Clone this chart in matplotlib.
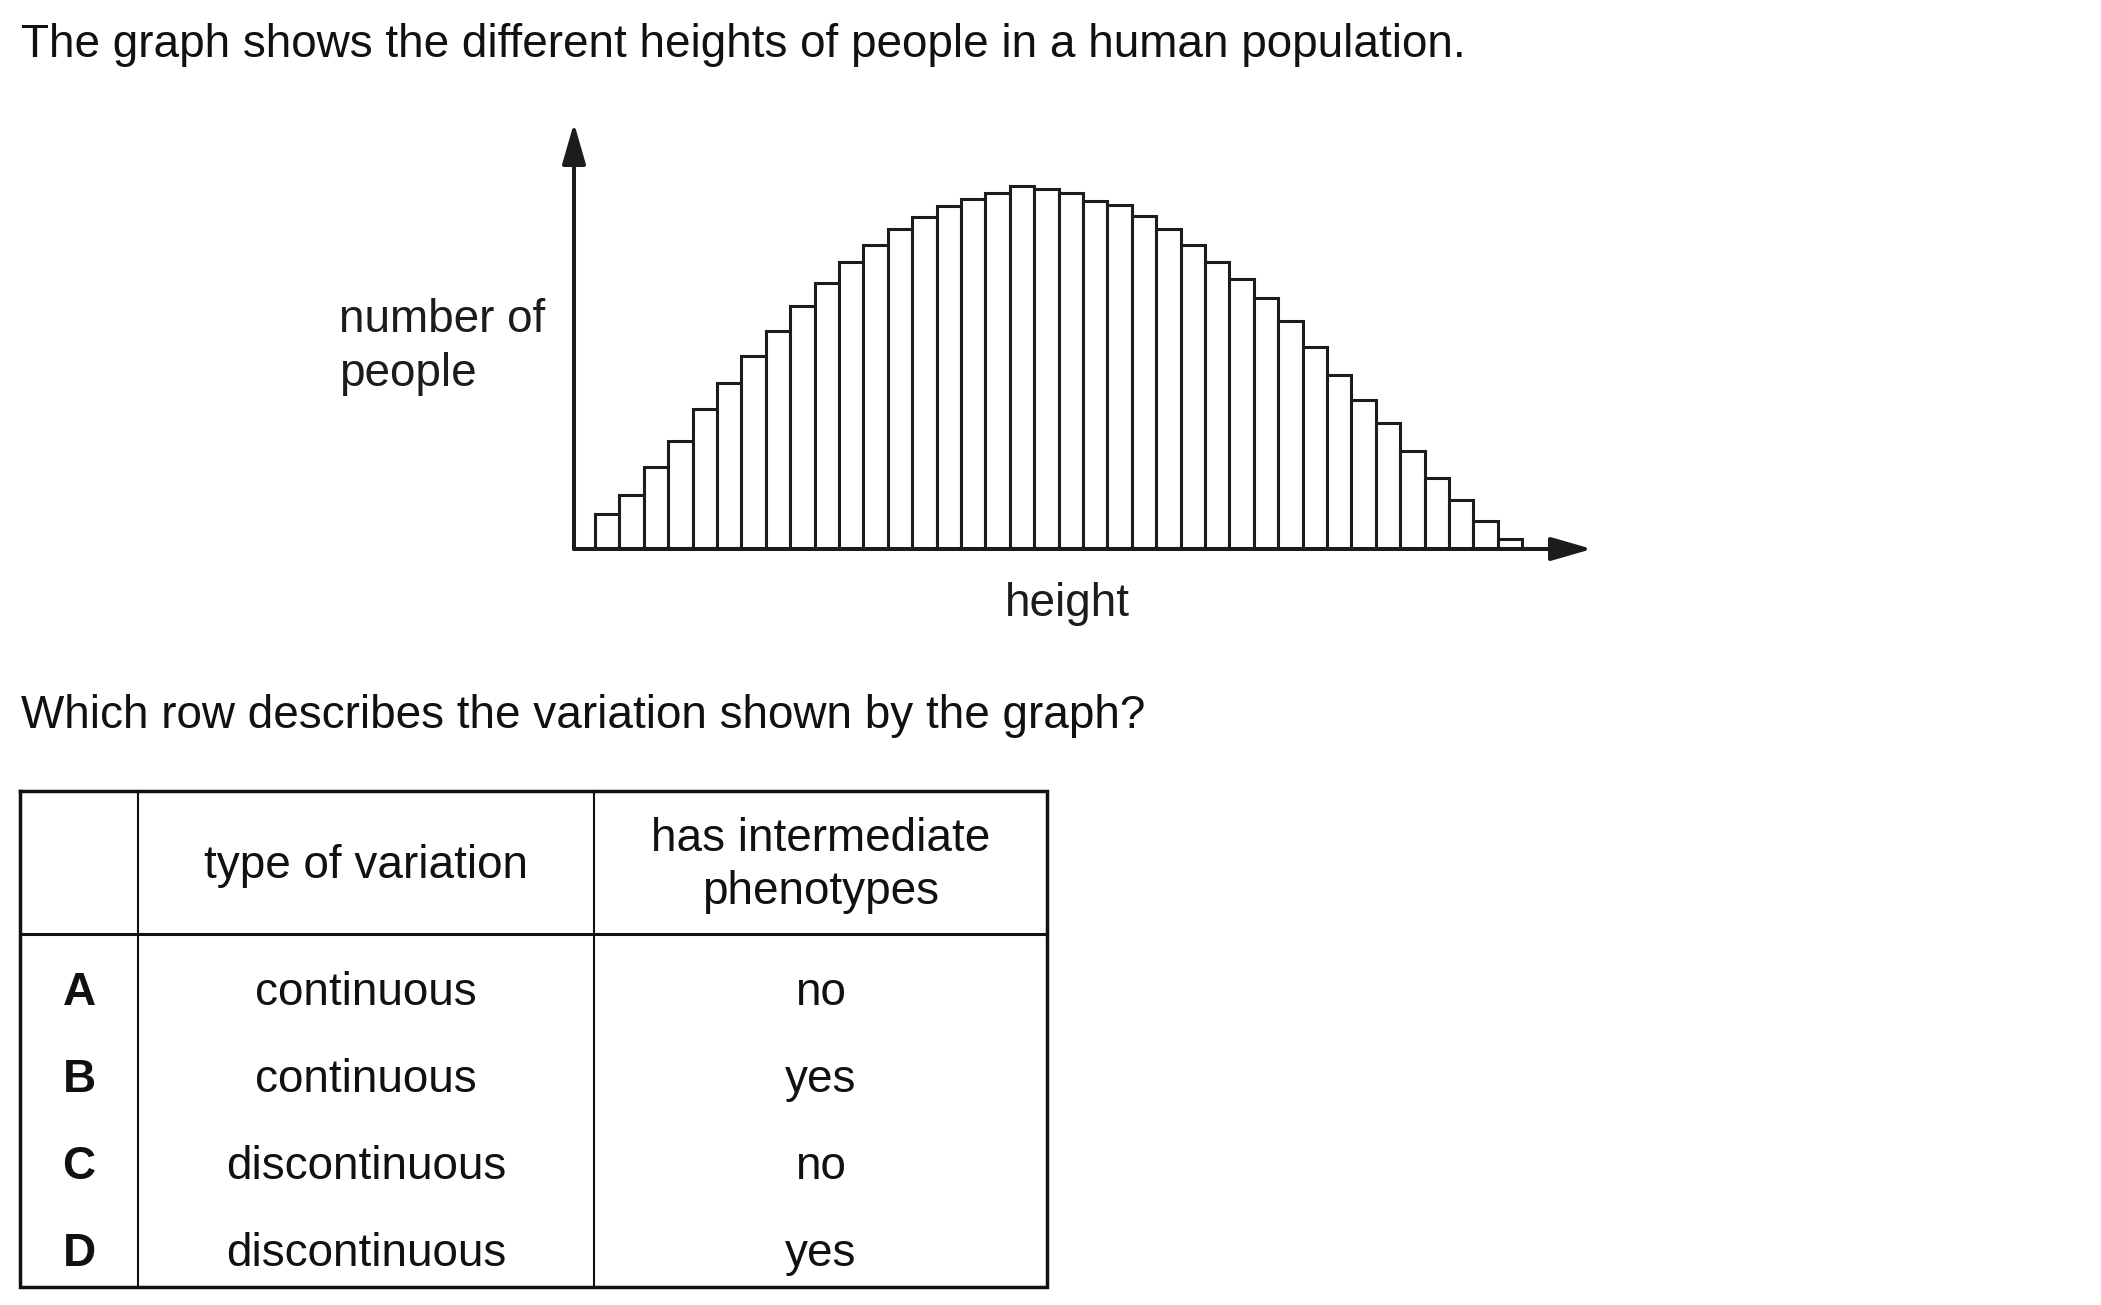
import matplotlib
matplotlib.use("Agg")
import matplotlib.pyplot as plt
from matplotlib.patches import FancyArrowPatch

# ---------------- data ----------------
bar_heights = [35, 54, 82, 108, 140, 166, 193, 218, 243, 266, 287, 304, 320, 332,
               343, 350, 356, 363, 360, 356, 348, 344, 333, 320, 304, 287, 270, 251,
               228, 202, 174, 149, 126, 98, 71, 49, 28, 10]
title_text = "The graph shows the different heights of people in a human population."
question_text = "Which row describes the variation shown by the graph?"
y_label = "number of\npeople"
x_label = "height"
header_labels = ["", "type of variation", "has intermediate\nphenotypes"]
row_labels = ["A", "B", "C", "D"]
variation_types = ["continuous", "continuous", "discontinuous", "discontinuous"]
intermediate = ["no", "yes", "no", "yes"]

# ---------------- figure ----------------
W, H = 2101, 1305
DPI = 100
plt.rcParams['font.family'] = ['Liberation Sans', 'DejaVu Sans']
FS = 33.0
INK = '#111111'
CHART_INK = '#1c1c1c'

fig = plt.figure(figsize=(W / DPI, H / DPI), dpi=DPI)
fig.patch.set_facecolor('white')

# overlay axes in pixel coordinates
ov = fig.add_axes([0, 0, 1, 1])
ov.set_xlim(0, W)
ov.set_ylim(H, 0)
ov.axis('off')

ov.text(21, 57, title_text, fontsize=FS, color=INK, ha='left', va='baseline')
ov.text(21, 728, question_text, fontsize=FS, color=INK, ha='left', va='baseline')
ov.text(339, 386, y_label, fontsize=FS, color=CHART_INK, ha='left', va='baseline',
        linespacing=1.3)

# ---------------- histogram ----------------
ax_left, ax_right, ax_bottom, ax_top = 574, 1592, 549, 123
ax = fig.add_axes([ax_left / W, (H - ax_bottom) / H,
                   (ax_right - ax_left) / W, (ax_bottom - ax_top) / H])
ax.patch.set_alpha(0)
bar_px = 24.4
first_off = (595 - ax_left) / bar_px
ax.set_xlim(-first_off, -first_off + (ax_right - ax_left) / bar_px)
ax.set_ylim(0, ax_bottom - ax_top)
xs = list(range(len(bar_heights)))
ax.bar(xs, bar_heights, width=1.0, align='edge', facecolor='white',
       edgecolor=CHART_INK, linewidth=2.2, zorder=2)
for s in ax.spines.values():
    s.set_visible(False)
ax.set_xticks([])
ax.set_yticks([])

arrow_kw = dict(arrowstyle='-|>,head_length=25,head_width=7.2', mutation_scale=1,
                color=CHART_INK, linewidth=2.9, shrinkA=0, shrinkB=0,
                transform=ax.transAxes, clip_on=False, zorder=3)
ax.add_patch(FancyArrowPatch((0, 0), (0, 1), **arrow_kw))
ax.add_patch(FancyArrowPatch((0, 0), (1, 0), **arrow_kw))

ov.text(1067, 616, x_label, fontsize=FS, color=CHART_INK, ha='center', va='baseline')

# ---------------- table ----------------
t_left, t_right, t_top, t_head, t_bottom = 20, 1047, 791, 934, 1287
col_x = [20, 138, 594, 1047]
outer_lw, inner_lw = 2.5, 1.5

ov.plot([t_left, t_right, t_right, t_left, t_left],
        [t_top, t_top, t_bottom, t_bottom, t_top], color=INK, lw=outer_lw,
        solid_joinstyle='miter')
ov.plot([t_left, t_right], [t_head, t_head], color=INK, lw=2.2)
for cx in col_x[1:-1]:
    ov.plot([cx, cx], [t_top, t_bottom], color=INK, lw=inner_lw)

col_centers = [(col_x[i] + col_x[i + 1]) / 2 for i in range(3)]
ov.text(col_centers[1], 878, header_labels[1], fontsize=FS, color=INK,
        ha='center', va='baseline')
ov.text(col_centers[2], 904, header_labels[2], fontsize=FS, color=INK,
        ha='center', va='baseline', multialignment='center', linespacing=1.27)

row_baselines = [1005, 1092, 1179, 1266]
for i, yb in enumerate(row_baselines):
    ov.text(col_centers[0], yb, row_labels[i], fontsize=FS, color=INK,
            ha='center', va='baseline', fontweight='bold')
    ov.text(col_centers[1], yb, variation_types[i], fontsize=FS, color=INK,
            ha='center', va='baseline')
    ov.text(col_centers[2], yb, intermediate[i], fontsize=FS, color=INK,
            ha='center', va='baseline')

fig.savefig('out.png', dpi=DPI, facecolor='white')
